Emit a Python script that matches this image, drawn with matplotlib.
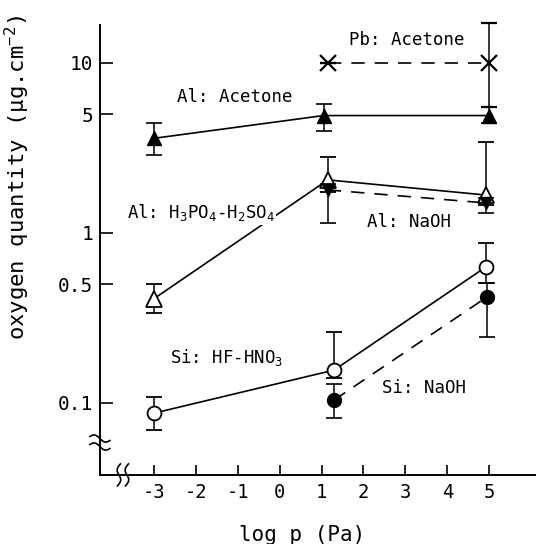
import numpy as np
import matplotlib
matplotlib.use('Agg')
import matplotlib.pyplot as plt

plt.rcParams['font.family'] = 'DejaVu Sans Mono'
plt.rcParams['mathtext.default'] = 'regular'
plt.rcParams['axes.unicode_minus'] = False

# ---- data: log p (Pa) vs oxygen quantity (ug/cm2), with error bar limits ----
# Al: Acetone
al_ac_x = [-3, 1.05, 5]
al_ac_y = [3.6, 4.9, 4.9]
al_ac_lo = [2.87, 4.0, 4.45]
al_ac_hi = [4.44, 5.7, 5.5]

# Pb: Acetone
pb_x = [1.15, 5]
pb_y = [10, 10]
pb_lo = [10, 5.5]
pb_hi = [10, 17.2]

# Al: H3PO4-H2SO4
al_h_x = [-3, 1.15, 4.92]
al_h_y = [0.41, 2.05, 1.67]
al_h_lo = [0.34, 1.75, 1.45]
al_h_hi = [0.5, 2.8, 3.44]

# Al: NaOH
al_na_x = [1.15, 4.92]
al_na_y = [1.79, 1.5]
al_na_lo = [1.14, 1.31]
al_na_hi = [1.95, 1.6]

# Si: HF-HNO3
si_hf_x = [-3, 1.3, 4.92]
si_hf_y = [0.087, 0.156, 0.63]
si_hf_lo = [0.069, 0.14, 0.51]
si_hf_hi = [0.108, 0.26, 0.87]

# Si: NaOH
si_na_x = [1.3, 4.95]
si_na_y = [0.104, 0.42]
si_na_lo = [0.082, 0.245]
si_na_hi = [0.13, 0.51]

xticks = [-3, -2, -1, 0, 1, 2, 3, 4, 5]
yticks = [0.1, 0.5, 1, 5, 10]
ytick_labels = ['0.1', '0.5', '1', '5', '10']

# series labels and where they sit (data coords, left edge)
labels = ['Pb: Acetone', 'Al: Acetone', 'Al: H$_3$PO$_4$-H$_2$SO$_4$',
          'Al: NaOH', 'Si: HF-HNO$_3$', 'Si: NaOH']
label_x = [1.65, -2.45, -3.64, 2.08, -2.62, 2.44]
label_y = [13.7, 6.3, 1.31, 1.16, 0.184, 0.123]


def yerr(y, lo, hi):
    y = np.array(y)
    return [y - np.array(lo), np.array(hi) - y]


fig = plt.figure(figsize=(5.37, 5.44), dpi=100)
ax = fig.add_axes([0.186, 0.127, 0.810, 0.827])
ax.set_yscale('log')
ax.set_xlim(-4.29, 6.09)
ax.set_ylim(0.0377, 16.7)

eb = dict(color='black', ecolor='black', elinewidth=1.1, capsize=5.5,
          capthick=1.2, lw=1.2, clip_on=False)

# solid-line series
ax.errorbar(al_ac_x, al_ac_y, yerr=yerr(al_ac_y, al_ac_lo, al_ac_hi),
            marker='^', ms=10, mfc='black', mec='black', **eb)
ax.errorbar(si_hf_x, si_hf_y, yerr=yerr(si_hf_y, si_hf_lo, si_hf_hi),
            marker='o', ms=10, mfc='white', mec='black', mew=1.3, zorder=4, **eb)
ax.errorbar(al_h_x, al_h_y, yerr=yerr(al_h_y, al_h_lo, al_h_hi),
            marker='^', ms=11, mfc='white', mec='black', mew=1.3, zorder=3, **eb)

# dashed-line series
ax.errorbar(pb_x, pb_y, yerr=yerr(pb_y, pb_lo, pb_hi), ls=(0, (8, 6)),
            marker='x', ms=11, mew=1.6, mec='black', **eb)
ax.errorbar(al_na_x, al_na_y, yerr=yerr(al_na_y, al_na_lo, al_na_hi),
            ls=(0, (8, 6)), marker='v', ms=9, mfc='black', mec='black',
            zorder=5, **eb)
ax.errorbar(si_na_x, si_na_y, yerr=yerr(si_na_y, si_na_lo, si_na_hi),
            ls=(0, (8, 6)), marker='o', ms=10, mfc='black', mec='black',
            zorder=5, **eb)

for s, lx, ly in zip(labels, label_x, label_y):
    ax.text(lx, ly, s, fontsize=12.5, ha='left', va='center', zorder=6,
            bbox=dict(facecolor='white', edgecolor='none', pad=1))

# axes styling
for side in ['top', 'right']:
    ax.spines[side].set_visible(False)
ax.spines['left'].set_linewidth(1.4)
ax.spines['bottom'].set_linewidth(1.4)

ax.set_xticks(xticks)
ax.set_xticklabels([str(v) for v in xticks])
ax.set_yticks(yticks)
ax.set_yticklabels(ytick_labels)
ax.yaxis.set_minor_locator(matplotlib.ticker.NullLocator())
ax.tick_params(axis='x', direction='in', length=7, width=1.2, pad=6,
               labelsize=13.5)
ax.tick_params(axis='y', direction='in', length=9, width=1.2, pad=5,
               labelsize=14)

ax.set_xlabel('log p (Pa)', fontsize=15)
ax.xaxis.set_label_coords(0.465, -0.111)
ax.set_ylabel('oxygen quantity (\u00b5g.cm$^{-2}$)', fontsize=16)
ax.yaxis.set_label_coords(-0.156, 0.662)

# axis break marks
t = np.linspace(0, 1, 40)
wave = np.sin(2 * np.pi * t)
for off in (-4, 4):
    # y-axis break
    xs = (t - 0.5) * 20 / 435
    ys = 0.072 + (off + 2.5 * wave - 4 * (t - 0.5)) / 450
    ax.plot(xs, ys, color='black', lw=1.2, transform=ax.transAxes,
            clip_on=False)
    # x-axis break
    xs = 0.053 + (off + 2.5 * wave + 3 * (t - 0.5)) / 435
    ys = (t - 0.5) * 22 / 450
    ax.plot(xs, ys, color='black', lw=1.2, transform=ax.transAxes,
            clip_on=False)

fig.savefig('out.png', dpi=100)
